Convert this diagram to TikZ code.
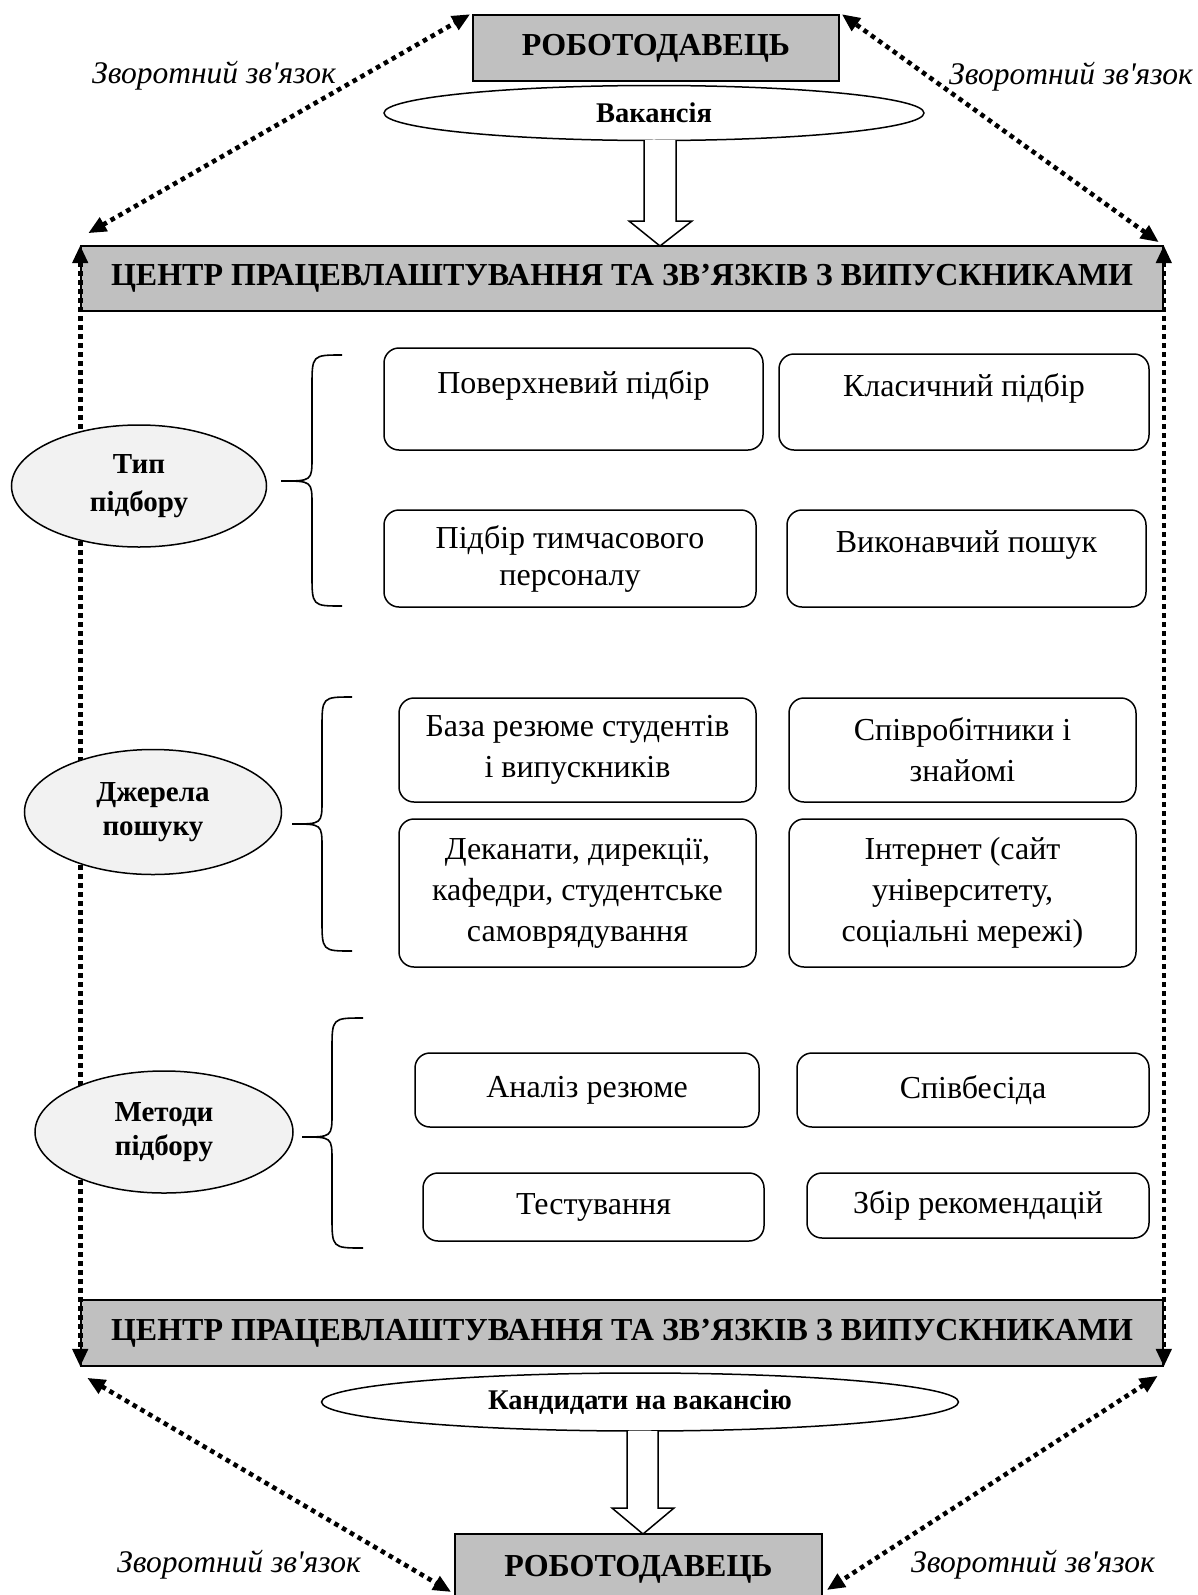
\documentclass[tikz,border=0pt]{standalone}
\usepackage{fontspec}
\setmainfont{Liberation Serif}
\newfontfamily\plainserif{Liberation Serif}
\usetikzlibrary{arrows.meta,shapes.geometric}

\definecolor{boxgray}{HTML}{C0C0C0}
\definecolor{ovalgray}{HTML}{F2F2F2}

\tikzset{
  graybox/.style={draw, line width=1.6pt, fill=boxgray, inner sep=0pt,
    font=\bfseries\fontsize{32}{38}\selectfont},
  oval/.style={ellipse, draw, line width=1.5pt, fill=white, inner sep=0pt,
    font=\bfseries\fontsize{28.5}{34}\selectfont},
  sideoval/.style={ellipse, draw, line width=1.5pt, fill=ovalgray, inner sep=0pt,
    align=center, font=\bfseries\fontsize{29}{34}\selectfont},
  item/.style={draw, line width=1.5pt, rounded corners=15pt, fill=white, inner sep=0pt,
    align=center, font=\fontsize{32}{41}\selectfont},
  feedback/.style={line width=4.6pt, dash pattern=on 4.6pt off 4.4pt,
    >={Triangle[length=18pt,width=15pt]}, <->},
  fblabel/.style={font=\plainserif\itshape\fontsize{31.5}{36}\selectfont, inner sep=0pt},
  hollow/.style={draw, line width=1.5pt, fill=white, line join=miter},
  bracket/.style={line width=1.6pt}
}

% curly brace opening to the right: tip x, spine x, end x, top y, middle y, bottom y
\newcommand\sidebrace[6]{%
  \draw[bracket] (#3,#4) .. controls (#2,#4) .. (#2,#4+32) -- (#2,#5-24)
    .. controls (#2,#5) .. (#1,#5) .. controls (#2,#5) .. (#2,#5+24)
    -- (#2,#6-32) .. controls (#2,#6) .. (#3,#6);}

\begin{document}
\begin{tikzpicture}[x=1pt, y=-1pt]
\useasboundingbox (0,0) rectangle (1198,1595);
\clip (0,0) rectangle (1198,1595);

% employer and employment centre bars
\node[graybox, minimum width=366pt, minimum height=66pt] (topemp) at (656,48) {РОБОТОДАВЕЦЬ};
\node[graybox, minimum width=1082pt, minimum height=65pt] (centertop) at (622,278.5)
  {ЦЕНТР ПРАЦЕВЛАШТУВАННЯ ТА ЗВ’ЯЗКІВ З ВИПУСКНИКАМИ};
\node[graybox, minimum width=1082pt, minimum height=66pt] (centerbot) at (622,1333)
  {ЦЕНТР ПРАЦЕВЛАШТУВАННЯ ТА ЗВ’ЯЗКІВ З ВИПУСКНИКАМИ};
\node[graybox, minimum width=367pt, minimum height=70pt] (botemp) at (638.5,1569)
  {\raisebox{4pt}{РОБОТОДАВЕЦЬ}};

% feedback loops
\draw[feedback] ([shift={(8,-12)}]centertop.north west) -- ([shift={(-2,0)}]topemp.north west);
\draw[feedback] ([shift={(-5,-3)}]centertop.north east) -- ([shift={(2,0)}]topemp.north east);
\draw[feedback] (centertop.north west) -- (centerbot.south west);
\draw[feedback] (centertop.north east) -- (centerbot.south east);
\draw[feedback] ([shift={(7,11)}]centerbot.south west) -- ([shift={(-3,23)}]botemp.west);
\draw[feedback] ([shift={(-6,9)}]centerbot.south east) -- ([shift={(4,21)}]botemp.east);

\node[fblabel] (fb1) at (214,76) {Зворотний зв'язок};
\node[fblabel] (fb2) at (1071,77) {Зворотний зв'язок};
\node[fblabel] (fb3) at (239,1565) {Зворотний зв'язок};
\node[fblabel] (fb4) at (1033,1565) {Зворотний зв'язок};

% vacancy and candidates
\node[oval, minimum width=540pt, minimum height=55pt] (vac) at (654,113) {Вакансія};
\node[oval, minimum width=637pt, minimum height=58pt] (cand) at (640,1402) {Кандидати на вакансію};

\draw[hollow] (644,140) -- (644,221) -- (629,221) -- (660,246) -- (692,221) -- (676,221) -- (676,140);
\draw[hollow] (627,1431) -- (627,1508) -- (612,1508) -- (643,1534) -- (674,1508) -- (658,1508) -- (658,1431);

% selection type
\node[sideoval, minimum width=255pt, minimum height=122pt] (typ) at (139,486) {Тип\\[4pt]підбору};
\sidebrace{281}{312}{342}{355}{481}{606}
\node[item, minimum width=379pt, minimum height=102pt] (a1) at (573.5,399) {Поверхневий підбір\\[-20pt]\strut};
\node[item, minimum width=370pt, minimum height=96pt] (a2) at (964,402) {Класичний підбір\\[-20pt]\strut};
\node[item, minimum width=372pt, minimum height=97pt] (a3) at (570,558.5) {Підбір тимчасового\\[-4pt]персоналу};
\node[item, minimum width=359pt, minimum height=97pt] (a4) at (966.5,558.5) {Виконавчий пошук\\[-20pt]\strut};

% search sources
\node[sideoval, minimum width=257pt, minimum height=125pt] (src) at (153,812) {Джерела\\пошуку};
\sidebrace{292}{322}{352}{697}{824}{951}
\node[item, minimum width=357pt, minimum height=104pt] (b1) at (577.5,750) {База резюме студентів\\і випускників};
\node[item, minimum width=347pt, minimum height=104pt] (b2) at (962.5,750) {Співробітники і\\знайомі};
\node[item, minimum width=357pt, minimum height=148pt] (b3) at (577.5,893) {Деканати, дирекції,\\кафедри, студентське\\самоврядування};
\node[item, minimum width=347pt, minimum height=148pt] (b4) at (962.5,893) {Інтернет (сайт\\університету,\\соціальні мережі)};

% selection methods
\node[sideoval, minimum width=258pt, minimum height=122pt] (met) at (164,1132) {Методи\\підбору};
\sidebrace{302}{332}{363}{1018}{1137}{1248}
\node[item, minimum width=344pt, minimum height=74pt] (c1) at (587,1090) {Аналіз резюме};
\node[item, minimum width=352pt, minimum height=74pt] (c2) at (973,1090) {Співбесіда};
\node[item, minimum width=341pt, minimum height=68pt] (c3) at (593.5,1207) {Тестування};
\node[item, minimum width=342pt, minimum height=65pt] (c4) at (978,1205.5) {Збір рекомендацій};
\end{tikzpicture}
\end{document}
